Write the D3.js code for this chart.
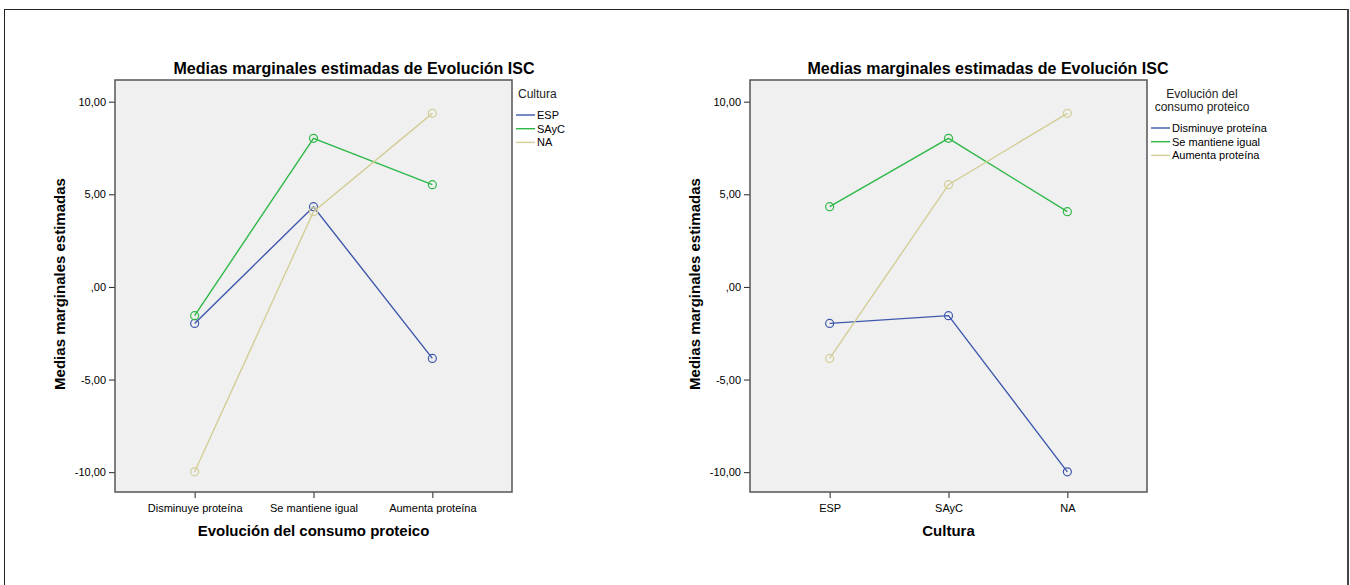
<!DOCTYPE html>
<html>
<head>
<meta charset="utf-8">
<script src="https://cdn.jsdelivr.net/npm/d3@7"></script>
<style>
  body { margin: 0; background: #fff; }
  svg { font-family: "Liberation Sans", Arial, sans-serif; }
</style>
</head>
<body>
<svg id="chart" width="1350" height="585"></svg>
<script>
// data
var evolucion = ["Disminuye proteína", "Se mantiene igual", "Aumenta proteína"];
var cultura = ["ESP", "SAyC", "NA"];

// rows = cultura, cols = evolucion
var espValues = [-1.97, 4.33, -3.86];
var saycValues = [-1.55, 8.02, 5.52];
var naValues = [-9.98, 4.06, 9.37];

var yTicks = [-10, -5, 0, 5, 10];
var yTickLabels = ["-10,00", "-5,00", ",00", "5,00", "10,00"];
var colors = ["#3e58ac", "#2eb848", "#d3ce97"];

var svg = d3.select("#chart");

// frame
svg.append("line").attr("x1", 4).attr("x2", 1348).attr("y1", 9.5).attr("y2", 9.5)
    .attr("stroke", "#222").attr("stroke-width", 1);
svg.append("line").attr("x1", 4.5).attr("x2", 4.5).attr("y1", 9).attr("y2", 585)
    .attr("stroke", "#222").attr("stroke-width", 1);
svg.append("line").attr("x1", 1348).attr("x2", 1348).attr("y1", 9).attr("y2", 585)
    .attr("stroke", "#444").attr("stroke-width", 2);

var fmt = function (d) { return yTickLabels[yTicks.indexOf(d)]; };

function drawPanel(opts) {
    var left = opts.left, top = 80, w = 397, h = 412;
    var g = svg.append("g").attr("transform", "translate(" + left + "," + top + ")");

    var x = d3.scalePoint().domain(opts.categories).range([0, w]).padding(0.67);
    var y = d3.scaleLinear().domain([-11.07, 11.17]).range([h, 0]);

    g.append("rect").attr("width", w).attr("height", h).attr("fill", "#f0f0f0");

    var yAxis = g.append("g")
        .call(d3.axisLeft(y).tickValues(yTicks).tickFormat(fmt).tickSize(6).tickPadding(3));
    var xAxis = g.append("g")
        .attr("transform", "translate(0," + h + ")")
        .call(d3.axisBottom(x).tickSize(6).tickPadding(6));
    [yAxis, xAxis].forEach(function (a) {
        a.select(".domain").remove();
        a.selectAll("line").attr("stroke", "#222");
        a.selectAll("text").attr("font-size", "11px").attr("fill", "#000")
            .attr("font-family", "Liberation Sans, Arial, sans-serif");
    });

    var line = d3.line()
        .x(function (d, i) { return x(opts.categories[i]); })
        .y(function (d) { return y(d); });

    opts.series.forEach(function (s, k) {
        g.append("path").datum(s)
            .attr("d", line)
            .attr("fill", "none")
            .attr("stroke", colors[k])
            .attr("stroke-width", 1.4);
        g.selectAll(".pt" + k).data(s).enter().append("circle")
            .attr("class", "pt" + k)
            .attr("cx", function (d, i) { return x(opts.categories[i]); })
            .attr("cy", function (d) { return y(d); })
            .attr("r", 4)
            .attr("fill", "none")
            .attr("stroke", colors[k])
            .attr("stroke-width", 1.2);
    });

    g.append("rect").attr("width", w).attr("height", h)
        .attr("fill", "none").attr("stroke", "#555").attr("stroke-width", 1.5);

    // titles
    svg.append("text")
        .attr("x", opts.titleX).attr("y", 74)
        .attr("text-anchor", "middle")
        .attr("font-weight", "bold").attr("font-size", "16px")
        .text("Medias marginales estimadas de Evolución ISC");

    svg.append("text")
        .attr("transform", "translate(" + (left - 50) + "," + (top + h / 2 - 2) + ") rotate(-90)")
        .attr("text-anchor", "middle")
        .attr("font-weight", "bold").attr("font-size", "15px")
        .text("Medias marginales estimadas");

    svg.append("text")
        .attr("x", left + w / 2).attr("y", 536)
        .attr("text-anchor", "middle")
        .attr("font-weight", "bold").attr("font-size", "15px")
        .text(opts.xTitle);

    // legend
    var lg = svg.append("g").attr("transform", "translate(" + (left + w + 4) + ",0)");
    lg.selectAll(".lt").data(opts.legendTitle).enter().append("text")
        .attr("x", opts.legendTitleX)
        .attr("y", function (d, i) { return 98 + i * 13; })
        .attr("text-anchor", opts.legendAnchor)
        .attr("font-size", "12px")
        .attr("fill", "#222")
        .text(function (d) { return d; });
    var items = lg.selectAll(".li").data(opts.legendItems).enter().append("g")
        .attr("transform", function (d, i) { return "translate(0," + (opts.legendY + i * 13.7) + ")"; });
    items.append("line").attr("x1", 0).attr("x2", 19)
        .attr("stroke", function (d, i) { return colors[i]; })
        .attr("stroke-width", 1.4);
    items.append("text").attr("x", 21).attr("y", 4)
        .attr("font-size", "11px")
        .text(function (d) { return d; });
}

drawPanel({
    left: 115,
    categories: evolucion,
    series: [espValues, saycValues, naValues],
    titleX: 354,
    xTitle: "Evolución del consumo proteico",
    legendTitle: ["Cultura"],
    legendTitleX: 2,
    legendAnchor: "start",
    legendItems: cultura,
    legendY: 115
});

// second panel: transpose, series = evolucion, categories = cultura
var byEvolucion = evolucion.map(function (e, j) {
    return [espValues[j], saycValues[j], naValues[j]];
});

drawPanel({
    left: 750,
    categories: cultura,
    series: byEvolucion,
    titleX: 988,
    xTitle: "Cultura",
    legendTitle: ["Evolución del", "consumo proteico"],
    legendTitleX: 51,
    legendAnchor: "middle",
    legendItems: evolucion,
    legendY: 128
});
</script>
</body>
</html>
